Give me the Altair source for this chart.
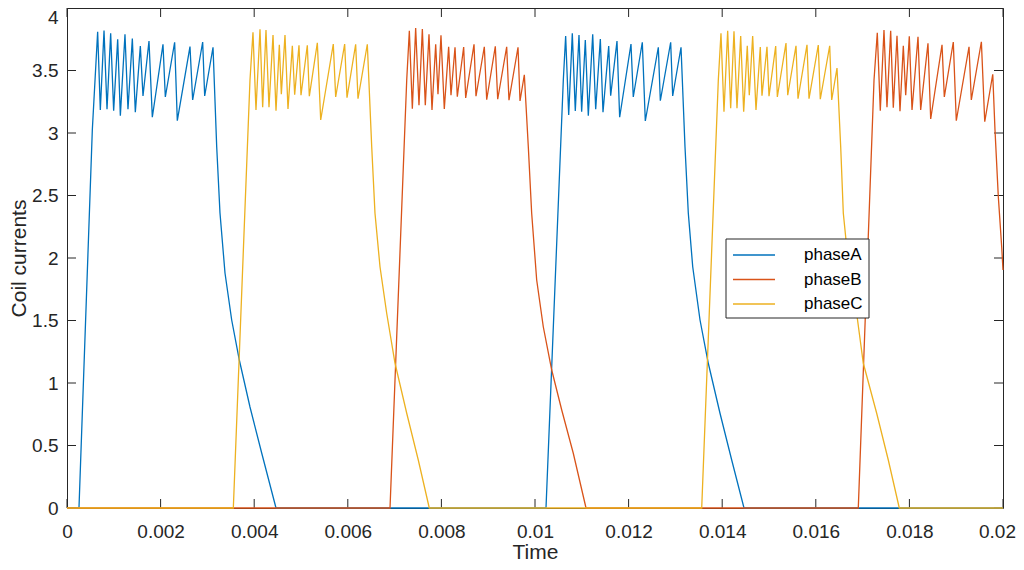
import altair as alt
import pandas as pd

# valores (tempo em s, corrente em A)
phase_a_time = [0, 0.000256, 0.000541, 0.000655, 0.000712, 0.000791, 0.000855, 0.000933, 0.000997,
                0.001083, 0.00114, 0.001239, 0.001303, 0.001396, 0.00146, 0.001567, 0.001624, 0.001752,
                0.001823, 0.002051, 0.002101, 0.0023, 0.002357, 0.002628, 0.002685, 0.002899, 0.002942,
                0.00312, 0.003199, 0.003269, 0.003376, 0.003519, 0.003682, 0.00391, 0.00416, 0.004466,
                0.010235, 0.010605, 0.010655, 0.01072, 0.010797, 0.010861, 0.01094, 0.010997, 0.011075,
                0.011139, 0.011233, 0.011297, 0.011396, 0.011453, 0.011575, 0.011617, 0.011752, 0.011809,
                0.012051, 0.0121, 0.012293, 0.012357, 0.012635, 0.012678, 0.012899, 0.012942, 0.01312,
                0.013205, 0.013276, 0.01337, 0.013526, 0.013703, 0.013953, 0.014203, 0.014466, 0.02]
phase_a_current = [0, 0, 3.024, 3.81, 3.184, 3.819, 3.19, 3.798, 3.179, 3.75, 3.139, 3.79, 3.19, 3.755,
                   3.166, 3.696, 3.296, 3.736, 3.126, 3.71, 3.288, 3.726, 3.099, 3.691, 3.264, 3.728, 3.296,
                   3.686, 2.888, 2.36, 1.88, 1.504, 1.184, 0.808, 0.44, 0,
                   0, 3.424, 3.776, 3.144, 3.798, 3.176, 3.784, 3.17, 3.744, 3.138, 3.79, 3.19, 3.752,
                   3.166, 3.696, 3.298, 3.736, 3.126, 3.712, 3.288, 3.726, 3.096, 3.686, 3.258, 3.726,
                   3.296, 3.686, 2.89, 2.358, 1.93, 1.504, 1.158, 0.758, 0.384, 0, 0]

phase_b_time = [0, 0.006902, 0.007259, 0.007315, 0.007379, 0.00745, 0.007521, 0.007593, 0.007656,
                0.007735, 0.007799, 0.007878, 0.007927, 0.007991, 0.008062, 0.008155, 0.008205, 0.008291,
                0.00834, 0.008476, 0.008519, 0.008697, 0.008739, 0.008917, 0.008968, 0.009152, 0.009203,
                0.009395, 0.009444, 0.009637, 0.00968, 0.009772, 0.009857, 0.009929, 0.010036, 0.010177,
                0.010357, 0.010571, 0.010818, 0.01109,
                0.016908, 0.017244, 0.017314, 0.017378, 0.017457, 0.017521, 0.0176, 0.017656, 0.017735,
                0.017799, 0.01787, 0.017921, 0.017998, 0.018056, 0.018184, 0.018241, 0.018397, 0.018455,
                0.018697, 0.018746, 0.018938, 0.019002, 0.019274, 0.019323, 0.019538, 0.01961, 0.019781,
                0.019829, 0.0199, 0.019972, 0.02]
phase_b_current = [0, 0, 3.424, 3.818, 3.194, 3.84, 3.222, 3.832, 3.222, 3.79, 3.184, 3.71, 3.31, 3.782,
                   3.192, 3.69, 3.302, 3.686, 3.29, 3.688, 3.28, 3.71, 3.294, 3.69, 3.266, 3.694, 3.27,
                   3.69, 3.262, 3.686, 3.256, 3.466, 2.89, 2.358, 1.824, 1.45, 1.104, 0.784, 0.438, 0,
                   0, 3.424, 3.802, 3.178, 3.824, 3.206, 3.818, 3.202, 3.778, 3.174, 3.698, 3.302, 3.774,
                   3.184, 3.77, 3.184, 3.718, 3.112, 3.706, 3.288, 3.728, 3.098, 3.69, 3.264, 3.73, 3.09,
                   3.47, 3.024, 2.49, 2.09, 1.904]

phase_c_time = [0, 0.003554, 0.00391, 0.003974, 0.004038, 0.004124, 0.004181, 0.004252, 0.004316,
                0.004402, 0.004466, 0.004537, 0.00458, 0.004658, 0.004722, 0.004815, 0.004865, 0.004957,
                0.005, 0.005135, 0.005178, 0.005349, 0.005421, 0.00569, 0.005741, 0.005933, 0.005983,
                0.006168, 0.006218, 0.006417, 0.006511, 0.006581, 0.006688, 0.006831, 0.007009, 0.007259,
                0.007506, 0.007741,
                0.013562, 0.013917, 0.013974, 0.014038, 0.014117, 0.014181, 0.014252, 0.014316, 0.014395,
                0.014459, 0.014536, 0.014579, 0.014651, 0.014722, 0.014814, 0.01485, 0.014957, 0.015,
                0.015143, 0.015178, 0.015363, 0.0154, 0.015577, 0.01562, 0.015812, 0.015855, 0.016053,
                0.016096, 0.016297, 0.01634, 0.016453, 0.016532, 0.016588, 0.016731, 0.016887, 0.017015,
                0.017301, 0.017549, 0.017784, 0.02]
phase_c_current = [0, 0, 3.424, 3.806, 3.184, 3.83, 3.206, 3.824, 3.206, 3.784, 3.178, 3.706, 3.31,
                   3.784, 3.192, 3.698, 3.306, 3.702, 3.302, 3.702, 3.294, 3.722, 3.104, 3.712, 3.288,
                   3.712, 3.282, 3.71, 3.274, 3.71, 2.89, 2.358, 1.93, 1.558, 1.158, 0.758, 0.384, 0,
                   0, 3.424, 3.798, 3.17, 3.818, 3.198, 3.814, 3.198, 3.776, 3.17, 3.698, 3.302, 3.776,
                   3.184, 3.688, 3.298, 3.69, 3.294, 3.696, 3.288, 3.72, 3.302, 3.698, 3.274, 3.706,
                   3.274, 3.704, 3.27, 3.698, 3.264, 3.52, 2.89, 2.358, 1.824, 1.518, 1.158, 0.758,
                   0.384, 0, 0]

fases = ["phaseA", "phaseB", "phaseC"]
cores = ["#0072BD", "#D95319", "#EDB120"]

x_ticks = [0, 0.002, 0.004, 0.006, 0.008, 0.01, 0.012, 0.014, 0.016, 0.018, 0.02]
y_ticks = [0, 0.5, 1, 1.5, 2, 2.5, 3, 3.5, 4]

dados = pd.concat([
    pd.DataFrame({"t": phase_a_time, "i": phase_a_current, "fase": fases[0]}),
    pd.DataFrame({"t": phase_b_time, "i": phase_b_current, "fase": fases[1]}),
    pd.DataFrame({"t": phase_c_time, "i": phase_c_current, "fase": fases[2]}),
])

W, H = 936, 500
FONTE = "Liberation Sans"
EIXO = "#262626"
TICK = 9

escala_x = alt.Scale(domain=[0, 0.02], nice=False)
escala_y = alt.Scale(domain=[0, 4], nice=False)
escala_cor = alt.Scale(domain=fases, range=cores)

# o último rótulo do x é puxado um pouco para dentro para não ser cortado na borda
eixo_x = alt.Axis(
    values=x_ticks, format="~g", title="Time", domain=False, ticks=False, tickSize=0,
    grid=False, labelFlush=False, labelPadding=14, labelFontSize=19, titleFontSize=21,
    titleFontWeight="normal", titleBaseline="alphabetic", titleX=W / 2, titleY=50,
    labelOffset={"condition": {"test": "datum.value == 0.02", "value": -6}, "value": 0})
eixo_y = alt.Axis(
    values=y_ticks, format="~g", title="Coil currents", domain=False, ticks=False, tickSize=0,
    grid=False, labelFlush=False, labelPadding=9, labelFontSize=19, titleFontSize=21,
    titleFontWeight="normal", titleBaseline="alphabetic", titleX=-42, titleY=H / 2,
    labelBaseline={"condition": {"test": "datum.value == 4", "value": "top"}, "value": "middle"})

linhas = alt.Chart(dados).mark_line(strokeWidth=1.3).encode(
    x=alt.X("t:Q", scale=escala_x, axis=eixo_x),
    y=alt.Y("i:Q", scale=escala_y, axis=eixo_y),
    color=alt.Color("fase:N", scale=escala_cor, legend=None),
)

# marcas de escala para dentro, como no MATLAB
tx = pd.DataFrame({"t": x_ticks})
ty = pd.DataFrame({"i": y_ticks})
marca = dict(color=EIXO, strokeWidth=1)
tick_baixo = alt.Chart(tx).mark_rule(**marca).encode(
    x=alt.X("t:Q", scale=escala_x, axis=eixo_x), y=alt.value(H), y2=alt.value(H - TICK))
tick_cima = alt.Chart(tx).mark_rule(**marca).encode(
    x=alt.X("t:Q", scale=escala_x, axis=eixo_x), y=alt.value(0), y2=alt.value(TICK))
tick_esq = alt.Chart(ty).mark_rule(**marca).encode(
    y=alt.Y("i:Q", scale=escala_y, axis=eixo_y), x=alt.value(0), x2=alt.value(TICK))
tick_dir = alt.Chart(ty).mark_rule(**marca).encode(
    y=alt.Y("i:Q", scale=escala_y, axis=eixo_y), x=alt.value(W), x2=alt.value(W - TICK))

# legenda desenhada à mão (caixa no meio do gráfico)
legenda = pd.DataFrame({"fase": fases})
caixa = alt.Chart(legenda).mark_rect(fill="white", stroke=EIXO, strokeWidth=1).encode(
    x=alt.value(659), x2=alt.value(802), y=alt.value(231), y2=alt.value(310)
).transform_filter(f"datum.fase == '{fases[0]}'")

camadas_legenda = [caixa]
for k, fase in enumerate(fases):
    py = 247 + k * 24.5
    base = alt.Chart(legenda).transform_filter(f"datum.fase == '{fase}'")
    camadas_legenda.append(base.mark_rule(strokeWidth=1.5).encode(
        x=alt.value(666), x2=alt.value(708), y=alt.value(py),
        color=alt.Color("fase:N", scale=escala_cor, legend=None)))
    camadas_legenda.append(base.mark_text(
        align="left", baseline="middle", fontSize=17, font=FONTE, color="black").encode(
        x=alt.value(737), y=alt.value(py), text="fase:N"))

chart = alt.layer(tick_baixo, tick_cima, tick_esq, tick_dir, linhas, *camadas_legenda).properties(
    width=W, height=H,
    autosize=alt.AutoSizeParams(type="none"),
    padding={"left": 59, "top": 0, "right": 13, "bottom": 54},
).configure(
    background="white", font=FONTE
).configure_view(
    stroke=EIXO, strokeWidth=1
).configure_axis(
    labelColor=EIXO, titleColor=EIXO, labelFont=FONTE, titleFont=FONTE
)

chart.save("out.html", embed_options={"renderer": "svg", "actions": False})
